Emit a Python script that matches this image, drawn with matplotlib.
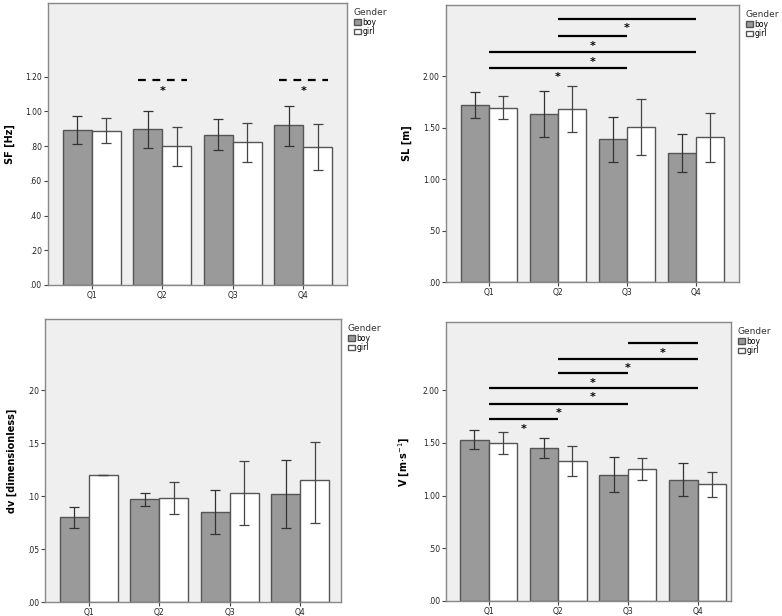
import matplotlib
matplotlib.use("Agg")
import matplotlib.pyplot as plt
from matplotlib.patches import Patch
import numpy as np

categories = ["Q1", "Q2", "Q3", "Q4"]

# Panel A: SF [Hz]
sf_boy = [0.895, 0.900, 0.865, 0.920]
sf_boy_lo = [0.815, 0.790, 0.780, 0.800]
sf_boy_hi = [0.975, 1.005, 0.955, 1.030]
sf_girl = [0.890, 0.800, 0.825, 0.795]
sf_girl_lo = [0.820, 0.685, 0.710, 0.660]
sf_girl_hi = [0.960, 0.910, 0.935, 0.930]
sf_ticks = [0.0, 0.2, 0.4, 0.6, 0.8, 1.0, 1.2]
sf_ticklabels = [".00", ".20", ".40", ".60", ".80", "1.00", "1.20"]
sf_dashed = [(1, 1.18, 1.14), (3, 1.18, 1.14)]  # (category, line y, star y)

# Panel B: SL [m]
sl_boy = [1.715, 1.630, 1.385, 1.255]
sl_boy_lo = [1.590, 1.410, 1.165, 1.070]
sl_boy_hi = [1.845, 1.850, 1.605, 1.440]
sl_girl = [1.690, 1.680, 1.510, 1.405]
sl_girl_lo = [1.580, 1.460, 1.235, 1.165]
sl_girl_hi = [1.805, 1.900, 1.780, 1.645]
sl_ticks = [0.0, 0.5, 1.0, 1.5, 2.0]
sl_ticklabels = [".00", ".50", "1.00", "1.50", "2.00"]
sl_sig = [(1, 3, 2.555, 2.50), (1, 2, 2.39, 2.33), (0, 3, 2.23, 2.17), (0, 2, 2.075, 2.02)]

# Panel C: dv [dimensionless]
dv_boy = [0.080, 0.097, 0.085, 0.102]
dv_boy_lo = [0.070, 0.091, 0.064, 0.070]
dv_boy_hi = [0.090, 0.103, 0.106, 0.134]
dv_girl = [0.120, 0.098, 0.103, 0.115]
dv_girl_lo = [0.120, 0.083, 0.0725, 0.0745]
dv_girl_hi = [0.120, 0.113, 0.133, 0.151]
dv_ticks = [0.0, 0.05, 0.10, 0.15, 0.20]
dv_ticklabels = [".00", ".05", ".10", ".15", ".20"]

# Panel D: V [m s-1]
v_boy = [1.532, 1.450, 1.200, 1.153]
v_boy_lo = [1.444, 1.355, 1.033, 0.995]
v_boy_hi = [1.621, 1.548, 1.368, 1.308]
v_girl = [1.504, 1.333, 1.251, 1.106]
v_girl_lo = [1.397, 1.191, 1.144, 0.983]
v_girl_hi = [1.608, 1.472, 1.359, 1.229]
v_ticks = [0.0, 0.5, 1.0, 1.5, 2.0]
v_ticklabels = [".00", ".50", "1.00", "1.50", "2.00"]
v_sig = [(2, 3, 2.449, 2.39), (1, 3, 2.294, 2.243), (1, 2, 2.164, 2.104),
         (0, 3, 2.022, 1.968), (0, 2, 1.874, 1.82), (0, 1, 1.728, 1.668)]

BG = "#efefef"
BOY = "#9a9a9a"
EDGE = "#555555"
SPINE = "#888888"
W = 0.41

fig = plt.figure(figsize=(7.82, 6.16), dpi=100)
FW, FH = 782, 616


def add_ax(l, r, t, b):
    return fig.add_axes([l / FW, 1 - b / FH, (r - l) / FW, (b - t) / FH])


def draw_panel(ax, boy, blo, bhi, girl, glo, ghi, ylim, xlim, ticks, ticklabels, ylabel, labelx):
    x = np.arange(len(categories))
    ax.set_facecolor(BG)
    ax.bar(x - W / 2, boy, W, color=BOY, edgecolor=EDGE, linewidth=1.0, zorder=2)
    ax.bar(x + W / 2, girl, W, color="white", edgecolor=EDGE, linewidth=1.0, zorder=2)
    byerr = [np.array(boy) - np.array(blo), np.array(bhi) - np.array(boy)]
    gyerr = [np.array(girl) - np.array(glo), np.array(ghi) - np.array(girl)]
    ax.errorbar(x - W / 2, boy, yerr=byerr, fmt="none", ecolor="#333333", elinewidth=0.9,
                capsize=3.5, capthick=0.9, zorder=3)
    ax.errorbar(x + W / 2, girl, yerr=gyerr, fmt="none", ecolor="#444444", elinewidth=0.9,
                capsize=3.5, capthick=0.9, zorder=3)
    ax.set_ylim(*ylim)
    ax.set_xlim(*xlim)
    ax.set_xticks(x)
    ax.set_xticklabels(categories, fontsize=5.5, color="#222222")
    ax.set_yticks(ticks)
    ax.set_yticklabels(ticklabels, fontsize=5.5, color="#222222")
    ax.tick_params(axis="both", length=3, width=0.8, color="#444444", pad=1.5)
    for s in ax.spines.values():
        s.set_color(SPINE)
        s.set_linewidth(1.0)
    ax.set_ylabel(ylabel, fontsize=7, fontweight="bold")
    ax.yaxis.set_label_coords(labelx, 0.5)
    handles = [Patch(facecolor=BOY, edgecolor=EDGE, label="boy"),
               Patch(facecolor="white", edgecolor=EDGE, label="girl")]
    leg = ax.legend(handles=handles, title="Gender", loc="upper left", bbox_to_anchor=(1.005, 1.0),
                    frameon=False, fontsize=5.5, title_fontsize=6.5, handlelength=1.0,
                    handleheight=0.8, handletextpad=0.1, borderpad=0.2, labelspacing=0.05)
    leg._legend_box.align = "left"
    leg.get_title().set_color("#333333")


def star(ax, x, y):
    ax.annotate("*", xy=(x, y), xytext=(0, -2.5), textcoords="offset points",
                ha="center", va="center", fontsize=8, fontweight="bold", zorder=4)


def sig_lines(ax, sig):
    for a, b, ly, sy in sig:
        ax.plot([a, b], [ly, ly], color="black", linewidth=1.6, solid_capstyle="butt", zorder=4)
        star(ax, (a + b) / 2, sy)


ax1 = add_ax(48, 347, 3, 285)
draw_panel(ax1, sf_boy, sf_boy_lo, sf_boy_hi, sf_girl, sf_girl_lo, sf_girl_hi,
           (0, 1.625), (-0.62, 3.62), sf_ticks, sf_ticklabels, "SF [Hz]", -0.11)
for c, ly, sy in sf_dashed:
    ax1.plot([c - 0.35, c + 0.35], [ly, ly], color="black", linewidth=1.6,
             linestyle=(0, (3.5, 3)), zorder=4)
    star(ax1, c, sy)

ax2 = add_ax(446, 739, 5, 282)
draw_panel(ax2, sl_boy, sl_boy_lo, sl_boy_hi, sl_girl, sl_girl_lo, sl_girl_hi,
           (0, 2.69), (-0.62, 3.62), sl_ticks, sl_ticklabels, "SL [m]", -0.116)
sig_lines(ax2, sl_sig)

ax3 = add_ax(45, 341, 319, 602)
draw_panel(ax3, dv_boy, dv_boy_lo, dv_boy_hi, dv_girl, dv_girl_lo, dv_girl_hi,
           (0, 0.267), (-0.62, 3.58), dv_ticks, dv_ticklabels, "dv [dimensionless]", -0.095)

ax4 = add_ax(446, 731, 322, 601)
draw_panel(ax4, v_boy, v_boy_lo, v_boy_hi, v_girl, v_girl_lo, v_girl_hi,
           (0, 2.648), (-0.61, 3.48), v_ticks, v_ticklabels, r"V [m$\cdot$s$^{-1}$]", -0.12)
sig_lines(ax4, v_sig)

fig.savefig("out.png", dpi=100, facecolor="white")
